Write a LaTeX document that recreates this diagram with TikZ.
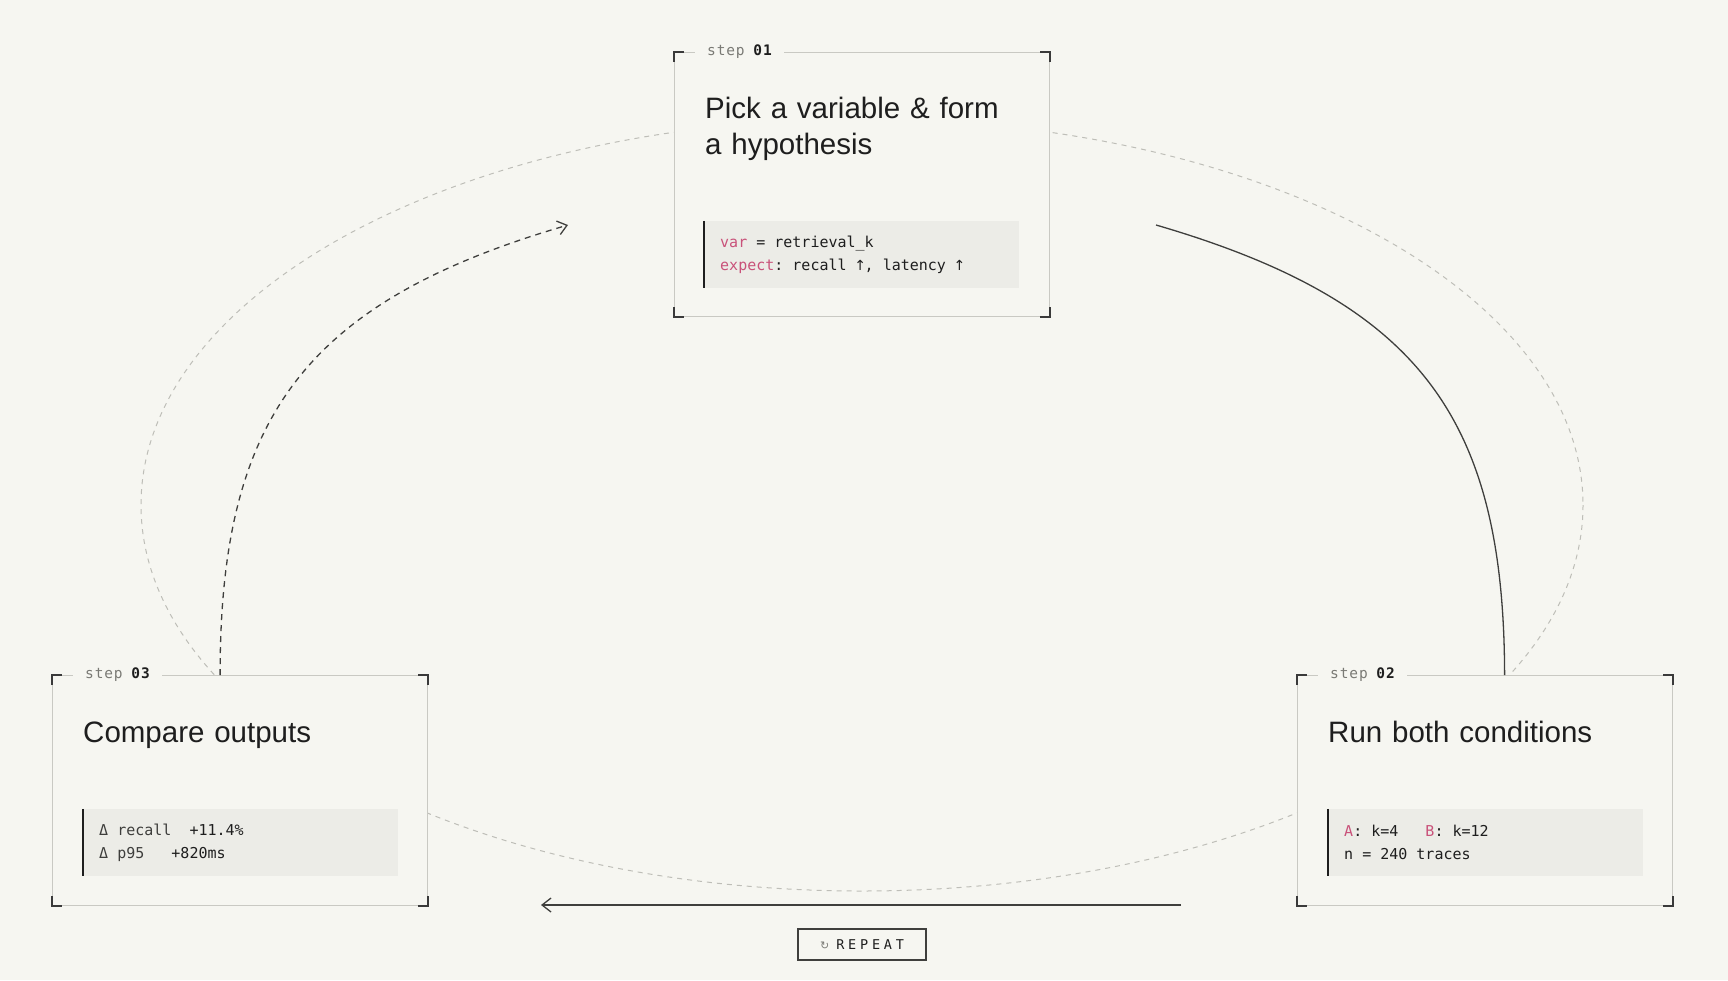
\documentclass[tikz,border=0pt]{standalone}
\usepackage{fontspec}
\setmainfont{Liberation Sans}
\newfontfamily\codefont{DejaVu Sans Mono}
\newfontfamily\labelfont[LetterSpace=6]{DejaVu Sans Mono}
\newfontfamily\tagfont[LetterSpace=28]{DejaVu Sans Mono}
\newfontfamily\symfont{DejaVu Sans}
\usetikzlibrary{arrows.meta}
\definecolor{paper}{HTML}{F6F6F1}
\definecolor{rule}{HTML}{C9C9C3}
\definecolor{tick}{HTML}{3A3A3A}
\definecolor{code}{HTML}{ECECE7}
\definecolor{ink}{HTML}{1E1E1E}
\definecolor{soft}{HTML}{3E3E3C}
\definecolor{mute}{HTML}{7A7A75}
\definecolor{rose}{HTML}{C9527A}
\definecolor{ring}{HTML}{BEBEB8}
\definecolor{wire}{HTML}{3F3F3D}
\newcommand{\kw}[1]{\textcolor{rose}{#1}}
\newcommand{\cell}{\hspace*{0.602em}}
\newcommand{\up}{\makebox[0.602em]{\symfont\fontsize{14}{16}\selectfont ↑}}

\begin{document}
\begin{tikzpicture}[x=1pt, y=-1pt,
    stepbox/.style={draw=rule, fill=paper, line width=1.2pt, inner sep=0pt, minimum width=375pt, minimum height=230pt, anchor=north west},
    steptag/.style={fill=paper, inner xsep=12pt, inner ysep=2pt, anchor=west, font={\fontsize{14.5}{16}\labelfont}, text=mute},
    headline/.style={anchor=base west, text width=330pt, align=left, inner sep=0pt, font=\fontsize{29.5}{36.5}\selectfont, text=ink},
    snippet/.style={fill=code, anchor=south west, minimum width=315pt, minimum height=67pt, text width=283pt, inner xsep=16pt, inner ysep=0pt, align=left, font={\fontsize{15}{23.3}\codefont}, text=ink},
    bar/.style={draw=ink, line width=2.4pt},
    corner/.style={draw=tick, line width=2pt},
    orbit/.style={draw=ring, line width=1pt, dash pattern=on 5pt off 5pt},
    flow/.style={draw=wire, line width=1.3pt},
    >={Straight Barb[length=9pt,width=14pt]}]

    \fill[paper] (0,0) rectangle (1728,980);
    \useasboundingbox (0,0) rectangle (1728,980);

    \draw[orbit] (862,505) ellipse [x radius=721, y radius=386];

    \node[stepbox, minimum height=264pt] (step1) at (674,52) {};
    \node[stepbox] (step2) at (1297,675) {};
    \node[stepbox] (step3) at (52,675) {};

    \foreach \s in {step1,step2,step3} {
        \draw[corner] ([yshift=-10pt]\s.north west) -- (\s.north west) -- ([xshift=10pt]\s.north west);
        \draw[corner] ([yshift=-10pt]\s.north east) -- (\s.north east) -- ([xshift=-10pt]\s.north east);
        \draw[corner] ([yshift=10pt]\s.south west) -- (\s.south west) -- ([xshift=10pt]\s.south west);
        \draw[corner] ([yshift=10pt]\s.south east) -- (\s.south east) -- ([xshift=-10pt]\s.south east);
    }

    \node[steptag] (tag1) at ([xshift=21pt]step1.north west) {step\cell\textcolor{ink}{\bfseries 01}};
    \node[steptag] (tag2) at ([xshift=21pt]step2.north west) {step\cell\textcolor{ink}{\bfseries 02}};
    \node[steptag] (tag3) at ([xshift=21pt]step3.north west) {step\cell\textcolor{ink}{\bfseries 03}};

    \node[headline] (head1) at ([xshift=31pt,yshift=-66pt]step1.north west) {Pick a variable \& form\\a hypothesis};
    \node[headline] (head2) at ([xshift=31pt,yshift=-67pt]step2.north west) {Run both conditions};
    \node[headline] (head3) at ([xshift=31pt,yshift=-67pt]step3.north west) {Compare outputs};

    \node[snippet] (code1) at ([xshift=30pt,yshift=29pt]step1.south west) {\kw{var}\cell=\cell retrieval\_k\\\kw{expect}:\cell recall\cell\up,\cell latency\cell\up};
    \node[snippet] (code2) at ([xshift=31pt,yshift=30pt]step2.south west) {\kw{A}:\cell k=4\cell\cell\cell\kw{B}:\cell k=12\\n\cell=\cell 240\cell traces};
    \node[snippet, text=soft] (code3) at ([xshift=31pt,yshift=30pt]step3.south west) {Δ\cell recall\cell\cell\textcolor{ink}{+11.4\%}\\Δ\cell p95\cell\cell\cell\textcolor{ink}{+820ms}};
    \foreach \c in {code1,code2,code3}
        \draw[bar] (\c.north west) -- (\c.south west);

    \coordinate (out1) at (1156,225);
    \coordinate (in2) at ([xshift=19.5pt]step2.north);
    \draw[flow] (out1) .. controls (1420,302) and (1504,418) .. (in2);

    \coordinate (out3) at ([xshift=-20pt]step3.north);
    \coordinate (in1) at (568,225);
    \draw[flow, dash pattern=on 6pt off 5pt, ->] (out3) .. controls (220,418) and (304,302) .. (in1);

    \coordinate (out2) at (1181,905);
    \coordinate (in3) at (541,905);
    \draw[flow, ->] (out2) -- (in3);

    \node[draw=wire, line width=1.3pt, minimum width=128pt, minimum height=31pt, inner sep=0pt, font={\fontsize{13.5}{15}\tagfont}, text=ink] (again) at (862,944.5) {{\fontsize{11}{12}\symfont\textcolor{mute}{↻}}\hspace{7pt}REPEAT};

\end{tikzpicture}
\end{document}
